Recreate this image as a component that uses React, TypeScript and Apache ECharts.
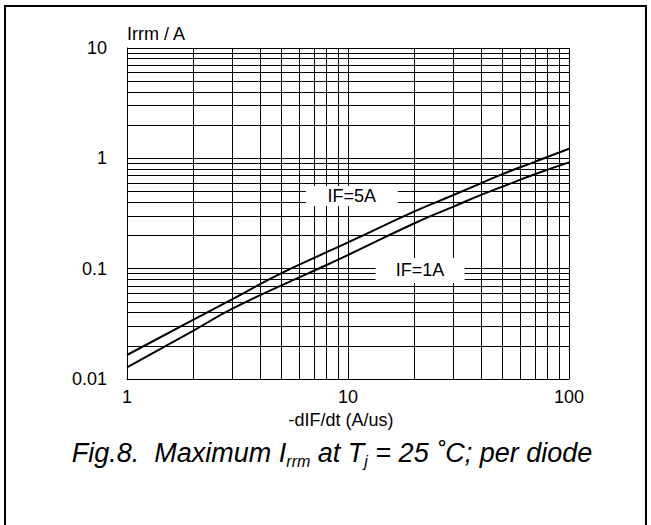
import React, { useEffect, useRef } from "react";
import * as echarts from "echarts";

// -dIF/dt (A/us)
const xValues = [1, 2, 3, 5, 8, 10, 20, 30, 40, 50, 70, 100];
// Irrm (A) for IF = 5 A
const irrm5A = [0.0165, 0.0345, 0.053, 0.091, 0.141, 0.173, 0.33, 0.465, 0.595, 0.72, 0.93, 1.22];
// Irrm (A) for IF = 1 A
const irrm1A = [0.01276, 0.0275, 0.0434, 0.0705, 0.108, 0.133, 0.258, 0.365, 0.466, 0.554, 0.718, 0.92];

// grid lines
const xGrid = [1, 2, 3, 4, 5, 6, 7, 8, 9, 10, 20, 30, 40, 50, 60, 70, 80, 90, 100];
const yGrid = [
  0.01, 0.02, 0.03, 0.04, 0.05, 0.06, 0.07, 0.08, 0.09,
  0.1, 0.2, 0.3, 0.4, 0.5, 0.6, 0.7, 0.8, 0.9,
  1, 2, 3, 4, 5, 6, 7, 8, 9, 10,
];

const curveLabels = [
  { name: "IF=5A", coord: [10.4, 0.456], size: [92, 20] },
  { name: "IF=1A", coord: [21.2, 0.0963], size: [89, 25] },
];

const FONT = "'Liberation Sans', Arial, Helvetica, sans-serif";

export default function App() {
  const ref = useRef<HTMLDivElement>(null);
  useEffect(() => {
    if (!ref.current) return;
    const chart = echarts.init(ref.current, undefined, { renderer: "svg" });
    const gridLineStyle = { type: "solid", color: "#000", width: 1 };
    const option: any = {
      animation: false,
      backgroundColor: "#fff",
      textStyle: { fontFamily: FONT },
      grid: { left: 127, top: 48, width: 442, height: 331 },
      xAxis: {
        type: "log",
        logBase: 10,
        min: 1,
        max: 100,
        name: "-dIF/dt (A/us)",
        nameLocation: "middle",
        nameGap: 29,
        nameTextStyle: { color: "#000", fontSize: 18, fontFamily: FONT, padding: [0, 14, 0, 0] },
        axisLine: { show: true, lineStyle: { color: "#000", width: 1 } },
        axisTick: { show: false },
        splitLine: { show: false },
        axisLabel: { color: "#000", fontSize: 18, fontFamily: FONT, margin: 9 },
      },
      yAxis: {
        type: "log",
        logBase: 10,
        min: 0.01,
        max: 10,
        name: "Irrm / A",
        nameLocation: "end",
        nameGap: 5,
        nameTextStyle: { color: "#000", fontSize: 18, fontFamily: FONT, align: "left" },
        axisLine: { show: true, lineStyle: { color: "#000", width: 1 } },
        axisTick: { show: false },
        splitLine: { show: false },
        axisLabel: {
          color: "#000",
          fontSize: 18,
          fontFamily: FONT,
          margin: 20,
          formatter: (v: number) => String(Number(v.toPrecision(3))),
        },
      },
      graphic: [
        {
          type: "rect",
          shape: { x: 5, y: 6, width: 641, height: 560 },
          style: { fill: "none", stroke: "#000", lineWidth: 2 },
          silent: true,
        },
        {
          type: "text",
          x: 332,
          y: 453,
          style: {
            text: "{a|Fig.8.  Maximum I}{s|rrm}{a| at T}{s|j}{a| = 25 ˚C; per diode}",
            textAlign: "center",
            textVerticalAlign: "middle",
            fill: "#000",
            rich: {
              a: { fontSize: 27, fontStyle: "italic", fontFamily: FONT, lineHeight: 32, verticalAlign: "middle", fill: "#000" },
              s: { fontSize: 16, fontStyle: "italic", fontFamily: FONT, lineHeight: 16, verticalAlign: "bottom", fill: "#000" },
            },
          },
          silent: true,
        },
      ],
      series: [
        {
          type: "line",
          z: 1,
          silent: true,
          data: [],
          markLine: {
            silent: true,
            symbol: ["none", "none"],
            label: { show: false },
            lineStyle: gridLineStyle,
            emphasis: { disabled: true },
            data: [
              ...xGrid.map((v) => ({ xAxis: v })),
              ...yGrid.map((v) => ({ yAxis: v })),
            ],
          },
        },
        {
          type: "line",
          name: "IF=5A",
          z: 3,
          smooth: 0.5,
          showSymbol: false,
          symbol: "none",
          lineStyle: { color: "#000", width: 2 },
          data: xValues.map((x, i) => [x, irrm5A[i]]),
        },
        {
          type: "line",
          name: "IF=1A",
          z: 3,
          smooth: 0.5,
          showSymbol: false,
          symbol: "none",
          lineStyle: { color: "#000", width: 2 },
          data: xValues.map((x, i) => [x, irrm1A[i]]),
        },
        {
          type: "line",
          z: 4,
          silent: true,
          data: [],
          markPoint: {
            silent: true,
            data: curveLabels.map((l) => ({
              name: l.name,
              coord: l.coord,
              symbol: "rect",
              symbolSize: l.size,
              itemStyle: { color: "#fff" },
              label: {
                show: true,
                position: "inside",
                formatter: l.name,
                color: "#000",
                fontSize: 18,
                fontFamily: FONT,
              },
            })),
          },
        },
      ],
    };
    chart.setOption(option);
    return () => chart.dispose();
  }, []);
  return (
    <div
      ref={ref}
      style={{ position: "fixed", left: 0, top: 0, width: 651, height: 525 }}
    />
  );
}
